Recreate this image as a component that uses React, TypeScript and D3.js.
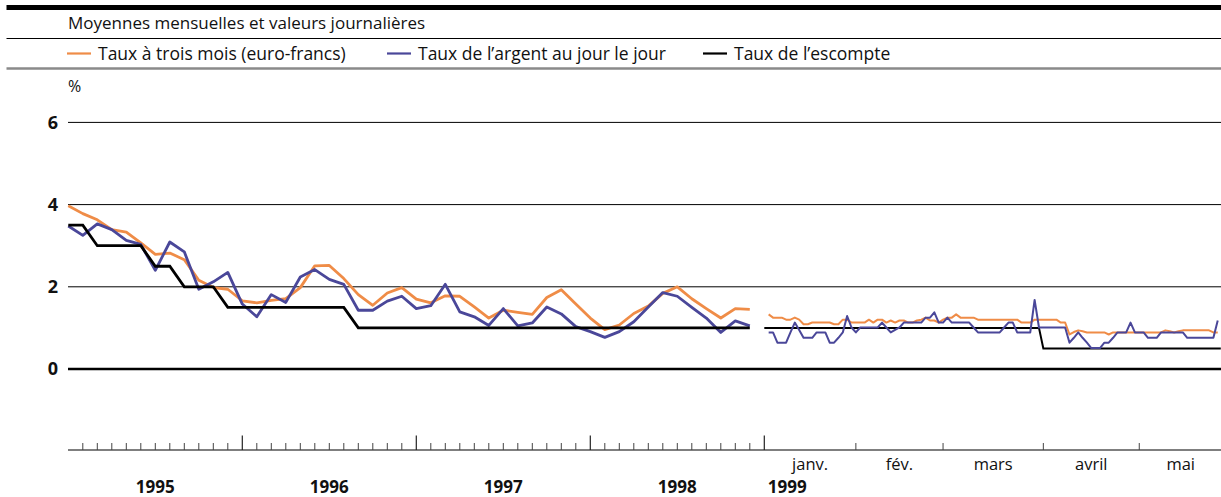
import React from 'react';
import * as d3 from 'd3';

// ---- DATA ----
const years = ['1995', '1996', '1997', '1998'];
const yTicks = [0, 2, 4, 6];

// Monthly averages Jan 1995 .. Dec 1998 (48 values)
const threeMonthMonthly = [
  3.97, 3.78, 3.63, 3.39, 3.33, 3.07, 2.79, 2.82, 2.66, 2.16, 1.98, 1.94,
  1.66, 1.61, 1.67, 1.71, 1.98, 2.51, 2.52, 2.2, 1.81, 1.55, 1.85, 1.98,
  1.7, 1.61, 1.78, 1.77, 1.51, 1.24, 1.43, 1.38, 1.33, 1.74, 1.93, 1.58,
  1.24, 0.96, 1.07, 1.35, 1.53, 1.84, 2.0, 1.71, 1.47, 1.24, 1.47, 1.45,
];
const callMoneyMonthly = [
  3.48, 3.25, 3.53, 3.39, 3.13, 3.03, 2.4, 3.09, 2.85, 1.94, 2.12, 2.35,
  1.58, 1.27, 1.81, 1.62, 2.24, 2.42, 2.18, 2.06, 1.43, 1.43, 1.65, 1.77,
  1.47, 1.54, 2.06, 1.39, 1.27, 1.06, 1.47, 1.05, 1.12, 1.51, 1.34, 1.03,
  0.91, 0.77, 0.91, 1.15, 1.51, 1.86, 1.77, 1.5, 1.24, 0.89, 1.17, 1.05,
];
const discountMonthly = [
  3.5, 3.5, 3, 3, 3, 3, 2.5, 2.5, 2, 2, 2, 1.5,
  1.5, 1.5, 1.5, 1.5, 1.5, 1.5, 1.5, 1.5, 1, 1, 1, 1,
  1, 1, 1, 1, 1, 1, 1, 1, 1, 1, 1, 1,
  1, 1, 1, 1, 1, 1, 1, 1, 1, 1, 1, 1,
];

// Daily values 1999, business days (first value = 4 janv.)
const dailyMonths = ['janv.', 'fév.', 'mars', 'avril', 'mai'];
const dailyMonthStartSlot = [0, 21, 41, 64, 86];
const dailySlotEnd = 105;
const threeMonthDaily = [
  1.33, 1.25, 1.25, 1.25, 1.2, 1.2, 1.25, 1.2, 1.09, 1.09,
  1.13, 1.13, 1.13, 1.13, 1.13, 1.09, 1.09, 1.2, 1.2, 1.13,
  1.13, 1.13, 1.13, 1.2, 1.13, 1.2, 1.2, 1.13, 1.18, 1.13,
  1.18, 1.18, 1.13, 1.13, 1.18, 1.2, 1.25, 1.18, 1.18, 1.13,
  1.2, 1.25, 1.25, 1.33, 1.25, 1.25, 1.25, 1.25, 1.2, 1.2,
  1.2, 1.2, 1.2, 1.2, 1.2, 1.2, 1.2, 1.2, 1.13, 1.13,
  1.13, 1.2, 1.2, 1.2, 1.2, 1.2, 1.2, 1.13, 1.13, 0.84,
  0.9, 0.94, 0.92, 0.89, 0.89, 0.89, 0.89, 0.89, 0.84, 0.89,
  0.89, 0.89, 0.89, 0.89, 0.89, 0.89, 0.89, 0.89, 0.89, 0.89,
  0.89, 0.94, 0.92, 0.89, 0.92, 0.94, 0.94, 0.94, 0.94, 0.94,
  0.94, 0.94, 0.89, 0.89,
];
const callMoneyDaily = [
  0.89, 0.89, 0.64, 0.64, 0.64, 0.89, 1.13, 0.95, 0.76, 0.76,
  0.76, 0.89, 0.89, 0.89, 0.64, 0.64, 0.76, 0.89, 1.29, 1.01,
  0.89, 1.01, 1.01, 1.01, 1.01, 1.01, 1.13, 1.01, 0.89, 0.95,
  1.01, 1.13, 1.13, 1.13, 1.13, 1.13, 1.25, 1.25, 1.38, 1.13,
  1.13, 1.25, 1.13, 1.13, 1.13, 1.13, 1.13, 1.01, 0.89, 0.89,
  0.89, 0.89, 0.89, 0.89, 1.01, 1.13, 1.13, 0.89, 0.89, 0.89,
  0.89, 1.68, 1.01, 1.01, 1.01, 1.01, 1.01, 1.01, 1.01, 0.64,
  0.76, 0.89, 0.76, 0.64, 0.51, 0.51, 0.51, 0.64, 0.64, 0.76,
  0.89, 0.89, 0.89, 1.13, 0.89, 0.89, 0.89, 0.76, 0.76, 0.76,
  0.89, 0.89, 0.89, 0.89, 0.89, 0.89, 0.76, 0.76, 0.76, 0.76,
  0.76, 0.76, 0.76, 1.18,
];
const discountDailySlots = [0, 63, 64, 104.7];
const discountDailyValues = [1, 1, 0.5, 0.5];

const legendItems = [
  { label: 'Taux à trois mois (euro-francs)', color: '#ef8c47' },
  { label: 'Taux de l\u2019argent au jour le jour', color: '#4a4799' },
  { label: 'Taux de l\u2019escompte', color: '#000000' },
];

// ---- LAYOUT ----
const W = 1221;
const H = 497;
const FONT = '"Open Sans", "Noto Sans", sans-serif';
const ORANGE = '#ef8c47';
const BLUE = '#4a4799';

export default function App() {
  const y = d3.scaleLinear().domain([0, 6]).range([369, 122.4]);
  const xm = d3.scaleLinear().domain([0, 48]).range([68.3, 764.3]);
  const xd = d3.scaleLinear().domain([0, dailySlotEnd]).range([764.3, 764.3 + 4.36 * dailySlotEnd]);
  const gridLeft = 68;
  const axisY = 450;

  const lineM = d3.line<number>().x((_, i) => xm(i)).y((v) => y(v));
  const lineD = d3.line<number>().x((_, i) => xd(i + 1)).y((v) => y(v));
  const lineDisc = d3
    .line<number>()
    .x((_, i) => xd(discountDailySlots[i]))
    .y((v) => y(v));

  const monthTicks = d3.range(1, 48).filter((k) => k % 12 !== 0);
  const yearTicks = [12, 24, 36, 48];

  const legendX = [
    { sw: 67, tx: 98 },
    { sw: 387, tx: 418 },
    { sw: 703, tx: 734 },
  ];

  return (
    <svg
      width={W}
      height={H}
      style={{ position: 'absolute', left: 0, top: 0, background: '#fff' }}
      fontFamily={FONT}
    >
      {/* header rules */}
      <rect x={6.5} y={5} width={W - 6.5} height={5} fill="#000" />
      <text x={68} y={29} fontSize={17} fill="#111">
        Moyennes mensuelles et valeurs journalières
      </text>
      <line x1={6.5} x2={W} y1={38.5} y2={38.5} stroke="#000" strokeWidth={1} />
      {legendItems.map((it, i) => (
        <g key={it.label}>
          <line
            x1={legendX[i].sw}
            x2={legendX[i].sw + 24}
            y1={53.5}
            y2={53.5}
            stroke={it.color}
            strokeWidth={2.2}
          />
          <text x={legendX[i].tx} y={60} fontSize={17.5} fill="#111">
            {it.label}
          </text>
        </g>
      ))}
      <line x1={6.5} x2={W} y1={68.5} y2={68.5} stroke="#8a8a8a" strokeWidth={2.5} />
      <text x={68} y={92} fontSize={16} fill="#111">
        %
      </text>

      {/* y grid */}
      {yTicks.map((t) => (
        <g key={t}>
          <line
            x1={gridLeft}
            x2={W}
            y1={y(t)}
            y2={y(t)}
            stroke="#000"
            strokeWidth={t === 0 ? 2.5 : 1}
          />
          <text
            x={58}
            y={y(t)}
            dy="0.36em"
            textAnchor="end"
            fontSize={18}
            fontWeight="bold"
            fill="#111"
          >
            {t}
          </text>
        </g>
      ))}

      {/* monthly series */}
      <path d={lineM(threeMonthMonthly) || ''} fill="none" stroke={ORANGE} strokeWidth={2.8} strokeLinejoin="round" />
      <path d={lineM(callMoneyMonthly) || ''} fill="none" stroke={BLUE} strokeWidth={2.8} strokeLinejoin="round" />
      <path d={lineM(discountMonthly) || ''} fill="none" stroke="#000" strokeWidth={2.8} />

      {/* daily series */}
      <path d={lineDisc(discountDailyValues) || ''} fill="none" stroke="#000" strokeWidth={2} />
      <path d={lineD(threeMonthDaily) || ''} fill="none" stroke={ORANGE} strokeWidth={2} strokeLinejoin="round" />
      <path d={lineD(callMoneyDaily) || ''} fill="none" stroke={BLUE} strokeWidth={2} strokeLinejoin="round" />

      {/* x axis */}
      <line x1={gridLeft} x2={W} y1={axisY} y2={axisY} stroke="#555" strokeWidth={1.5} />
      {monthTicks.map((k) => (
        <line key={'m' + k} x1={xm(k)} x2={xm(k)} y1={axisY - 7} y2={axisY} stroke="#444" strokeWidth={1} />
      ))}
      {yearTicks.map((k) => (
        <line key={'y' + k} x1={xm(k)} x2={xm(k)} y1={axisY - 14.5} y2={axisY} stroke="#222" strokeWidth={1.2} />
      ))}
      {dailyMonthStartSlot.slice(1).map((s) => (
        <line key={'d' + s} x1={xd(s)} x2={xd(s)} y1={axisY - 7} y2={axisY} stroke="#444" strokeWidth={1} />
      ))}
      {years.map((yr, i) => (
        <text
          key={yr}
          x={xm(i * 12 + 6)}
          y={493}
          textAnchor="middle"
          fontSize={17}
          fontWeight="bold"
          fill="#111"
        >
          {yr}
        </text>
      ))}
      <text x={xd(0) + 3.5} y={493} fontSize={17} fontWeight="bold" fill="#111">
        1999
      </text>
      {dailyMonths.map((m, i) => {
        const s0 = dailyMonthStartSlot[i];
        const s1 = i + 1 < dailyMonthStartSlot.length ? dailyMonthStartSlot[i + 1] : dailySlotEnd;
        return (
          <text key={m} x={xd((s0 + s1) / 2)} y={470} textAnchor="middle" fontSize={16.5} fill="#111">
            {m}
          </text>
        );
      })}
    </svg>
  );
}
